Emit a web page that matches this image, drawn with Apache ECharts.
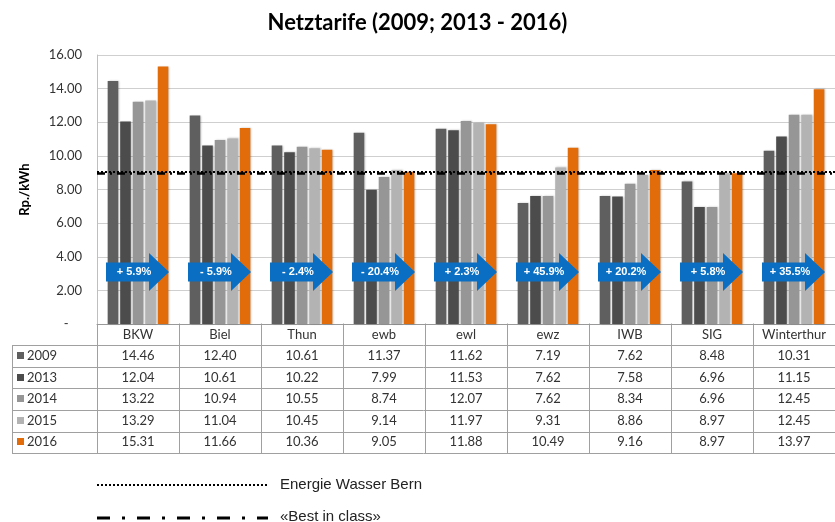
<!DOCTYPE html>
<html>
<head>
<meta charset="utf-8">
<script src="https://cdn.jsdelivr.net/npm/echarts@6/dist/echarts.min.js"></script>
<style>
  body { margin: 0; background: #fff; }
  #chart { width: 835px; height: 522px; }
</style>
</head>
<body>
<div id="chart"></div>
<script>
// data
const categories = ['BKW', 'Biel', 'Thun', 'ewb', 'ewl', 'ewz', 'IWB', 'SIG', 'Winterthur']
const years = ['2009', '2013', '2014', '2015', '2016']
const v2009 = [14.46, 12.40, 10.61, 11.37, 11.62, 7.19, 7.62, 8.48, 10.31]
const v2013 = [12.04, 10.61, 10.22, 7.99, 11.53, 7.62, 7.58, 6.96, 11.15]
const v2014 = [13.22, 10.94, 10.55, 8.74, 12.07, 7.62, 8.34, 6.96, 12.45]
const v2015 = [13.29, 11.04, 10.45, 9.14, 11.97, 9.31, 8.86, 8.97, 12.45]
const v2016 = [15.31, 11.66, 10.36, 9.05, 11.88, 10.49, 9.16, 8.97, 13.97]
const arrowLabels = ['+ 5.9%', '- 5.9%', '- 2.4%', '- 20.4%', '+ 2.3%', '+ 45.9%', '+ 20.2%', '+ 5.8%', '+ 35.5%']
const ewbLevel = 9.05 // Energie Wasser Bern
const bestLevel = 8.97 // «Best in class»

const seriesValues = [v2009, v2013, v2014, v2015, v2016]
const colors = ['#5f5f5f', '#4c4c4c', '#969696', '#b3b3b3', '#e36c0a']
const FONT = 'Lato, "Liberation Sans", sans-serif'
const ARROW_Y = 3.1
const dotted = [2, 2]
const dashDot = [13, 12, 3, 12]

const chart = echarts.init(document.getElementById('chart'))

const bars = seriesValues.map((vals, k) => ({
  name: years[k],
  type: 'bar',
  data: vals,
  barGap: '18%',
  barCategoryGap: '26%',
  itemStyle: { color: colors[k], shadowBlur: 2, shadowColor: 'rgba(0,0,0,0.25)', shadowOffsetX: 1 },
  silent: true
}))

bars[4].markLine = {
  symbol: 'none',
  silent: true,
  label: { show: false },
  z: 10,
  data: [
    { yAxis: ewbLevel, lineStyle: { color: '#000', width: 2, type: dotted } },
    { yAxis: bestLevel, lineStyle: { color: '#000', width: 2.5, type: [8, 5, 2, 5] } }
  ]
}

const option = {
  animation: false,
  title: {
    text: 'Netztarife (2009; 2013 - 2016)',
    left: 'center',
    top: 7,
    textStyle: { fontFamily: FONT, fontSize: 22, fontWeight: 'bold', color: '#000' }
  },
  grid: { left: 97, top: 55, width: 742, bottom: 198 },
  xAxis: {
    type: 'category',
    data: categories,
    axisLine: { lineStyle: { color: '#999' } },
    axisTick: { show: false },
    axisLabel: { interval: 0, margin: 4, fontFamily: FONT, fontSize: 13, color: '#333' }
  },
  yAxis: {
    type: 'value',
    min: 0,
    max: 16,
    interval: 2,
    name: 'Rp./kWh',
    nameLocation: 'middle',
    nameGap: 66,
    nameTextStyle: { fontFamily: FONT, fontSize: 13, fontWeight: 'bold', color: '#000' },
    axisLine: { show: true, lineStyle: { color: '#bfbfbf' } },
    axisTick: { show: false },
    splitLine: { lineStyle: { color: '#cfcfcf' } },
    axisLabel: {
      margin: 15,
      fontFamily: FONT,
      fontSize: 13,
      color: '#333',
      formatter: v => v === 0 ? '-    ' : v.toFixed(2)
    }
  },
  series: bars.concat([{
    type: 'custom',
    silent: true,
    z: 20,
    data: arrowLabels.map((t, i) => [i, ARROW_Y]),
    renderItem: function (params, api) {
      const c = api.coord([api.value(0), api.value(1)])
      const x = c[0]
      const y = c[1]
      return {
        type: 'group',
        children: [
          {
            type: 'polygon',
            shape: {
              points: [[x - 32, y - 9.5], [x + 11, y - 9.5], [x + 11, y - 19], [x + 31, y],
                [x + 11, y + 19], [x + 11, y + 9.5], [x - 32, y + 9.5]]
            },
            style: { fill: '#0a6fc2' }
          },
          {
            type: 'text',
            x: x - 4,
            y: y,
            style: {
              text: arrowLabels[params.dataIndex],
              fill: '#fff',
              font: 'bold 11px "Liberation Sans", Arial, sans-serif',
              align: 'center',
              verticalAlign: 'middle'
            }
          }
        ]
      }
    }
  }])
}

chart.setOption(option)

// data table under the plot
function buildTable () {
  const top = chart.convertToPixel({ yAxisIndex: 0 }, 0) - 0.5
  const centers = categories.map(c => chart.convertToPixel({ xAxisIndex: 0 }, c))
  const bw = centers[1] - centers[0]
  const rowH = 21.6
  const leftX = 12
  const rightX = centers[centers.length - 1] + bw / 2
  const lineStyle = { stroke: '#a0a0a0', lineWidth: 1 }
  const els = []
  for (let k = 1; k <= years.length + 1; k++) {
    const y = Math.round(top + k * rowH) + 0.5
    els.push({ type: 'line', shape: { x1: leftX, y1: y, x2: rightX, y2: y }, style: lineStyle })
  }
  const bottom = Math.round(top + (years.length + 1) * rowH) + 0.5
  centers.forEach(c => {
    const x = Math.round(c - bw / 2) + 0.5
    els.push({ type: 'line', shape: { x1: x, y1: top, x2: x, y2: bottom }, style: lineStyle })
  })
  els.push({ type: 'line', shape: { x1: leftX + 0.5, y1: Math.round(top + rowH) + 0.5, x2: leftX + 0.5, y2: bottom }, style: lineStyle })
  years.forEach((yr, k) => {
    const cy = top + (k + 1.5) * rowH
    els.push({ type: 'rect', shape: { x: 17, y: Math.round(cy - 4), width: 7, height: 7 }, style: { fill: colors[k] } })
    els.push({
      type: 'text', x: 27, y: cy,
      style: { text: yr, font: '13px ' + FONT, fill: '#333', verticalAlign: 'middle' }
    })
    seriesValues[k].forEach((v, i) => {
      els.push({
        type: 'text', x: centers[i], y: cy,
        style: { text: v.toFixed(2), font: '13px ' + FONT, fill: '#333', align: 'center', verticalAlign: 'middle' }
      })
    })
  })
  // legend for the reference lines
  const legendFont = '15px "Liberation Sans", Arial, sans-serif'
  els.push({ type: 'line', shape: { x1: 97, y1: 485, x2: 268, y2: 485 }, style: { stroke: '#000', lineWidth: 2, lineDash: dotted } })
  els.push({ type: 'text', x: 280, y: 485, style: { text: 'Energie Wasser Bern', font: legendFont, fill: '#222', verticalAlign: 'middle' } })
  els.push({ type: 'line', shape: { x1: 97, y1: 518, x2: 268, y2: 518 }, style: { stroke: '#000', lineWidth: 3, lineDash: dashDot } })
  els.push({ type: 'text', x: 280, y: 517, style: { text: '«Best in class»', font: legendFont, fill: '#222', verticalAlign: 'middle' } })
  chart.setOption({ graphic: els })
}
buildTable()
</script>
</body>
</html>
